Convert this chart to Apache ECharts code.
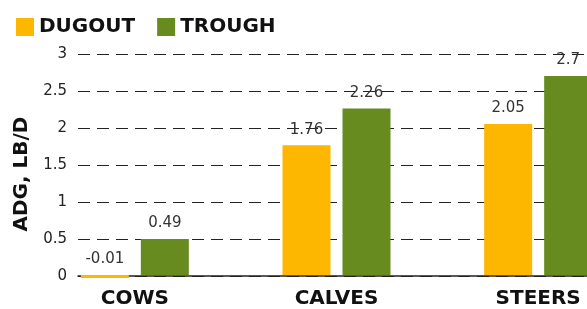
<!DOCTYPE html>
<html>
<head>
<meta charset="utf-8">
<script src="https://cdn.jsdelivr.net/npm/echarts@6/dist/echarts.min.js"></script>
<style>
  html, body { margin: 0; padding: 0; background: #fff; overflow: hidden; }
  /* chart is wider than the window: the last bar runs off the right edge */
  #main { width: 639px; height: 309px; }
</style>
</head>
<body>
<div id="main"></div>
<script>
// data
const categories = ['COWS', 'CALVES', 'STEERS']
const dugout = [-0.01, 1.76, 2.05]
const trough = [0.49, 2.26, 2.7]
const yTicks = { min: 0, max: 3, interval: 0.5 }

const font = 'DejaVu Sans'
let myChart = echarts.init(document.getElementById('main'))

// label shared by both series
const valueLabel = {
  show: true,
  position: 'top',
  distance: 8,
  fontFamily: font,
  fontSize: 15,
  color: '#333'
}

myChart.setOption({
  color: ['#FDB700', '#678B1E'],
  textStyle: { fontFamily: font },
  legend: {
    left: 11,
    top: 12,
    icon: 'rect',
    itemWidth: 18,
    itemHeight: 18,
    itemGap: 22,
    textStyle: { fontFamily: font, fontSize: 20, fontWeight: 'bold', color: '#111' },
    data: ['DUGOUT', 'TROUGH']
  },
  // grid 0 only draws the value axis, grid 1 holds the bars
  grid: [
    { left: 78, right: 0, top: 54, bottom: 33 },
    { left: 34, right: 0, top: 54, bottom: 33 }
  ],
  xAxis: [
    {
      gridIndex: 0,
      type: 'value',
      min: 0,
      max: 1,
      axisLine: { show: true, lineStyle: { color: '#222', width: 1.5 } },
      axisTick: { show: false },
      axisLabel: { show: false },
      splitLine: { show: false }
    },
    {
      gridIndex: 1,
      type: 'category',
      data: categories,
      axisLine: { show: false },
      axisTick: { show: false },
      axisLabel: {
        margin: 14,
        fontFamily: font,
        fontSize: 20,
        fontWeight: 'bold',
        color: '#111'
      }
    }
  ],
  yAxis: [
    {
      gridIndex: 0,
      type: 'value',
      min: yTicks.min,
      max: yTicks.max,
      interval: yTicks.interval,
      name: 'ADG, LB/D',
      nameLocation: 'middle',
      nameRotate: 90,
      nameGap: 42,
      nameTextStyle: {
        fontFamily: font,
        fontSize: 20,
        fontWeight: 'bold',
        color: '#111',
        padding: [0, 18, 0, 0]
      },
      axisLine: { show: false },
      axisTick: { show: false },
      axisLabel: { margin: 11, fontFamily: font, fontSize: 15, color: '#222' },
      splitLine: {
        show: true,
        lineStyle: { color: '#222', width: 1, type: [12, 7] }
      }
    },
    {
      gridIndex: 1,
      type: 'value',
      min: yTicks.min,
      max: yTicks.max,
      interval: yTicks.interval,
      show: false,
      splitLine: { show: false }
    }
  ],
  series: [
    {
      name: 'DUGOUT',
      type: 'bar',
      xAxisIndex: 1,
      yAxisIndex: 1,
      barWidth: 48,
      barGap: '25%',
      barMinHeight: 3,
      clip: false,
      label: valueLabel,
      data: dugout
    },
    {
      name: 'TROUGH',
      type: 'bar',
      xAxisIndex: 1,
      yAxisIndex: 1,
      barWidth: 48,
      barGap: '25%',
      barMinHeight: 3,
      clip: false,
      label: valueLabel,
      data: trough
    }
  ]
})

window.addEventListener('resize', () => {
  myChart.resize()
})
</script>
</body>
</html>
